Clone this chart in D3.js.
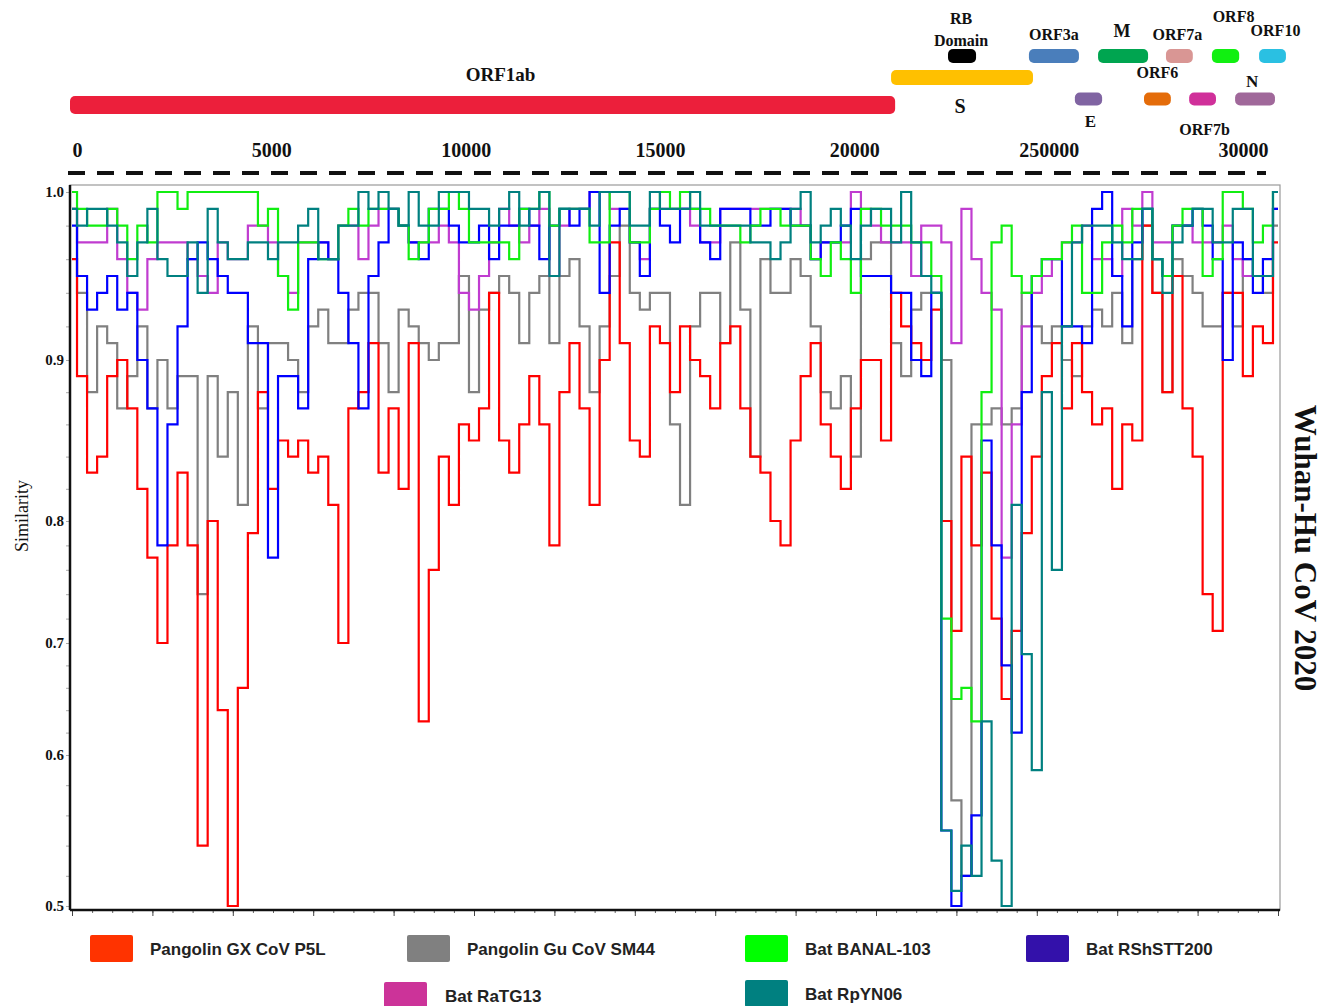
<!DOCTYPE html>
<html>
<head>
<meta charset="utf-8">
<script src="https://cdn.jsdelivr.net/npm/d3@7"></script>
<style>
body { margin: 0; background: #fff; }
</style>
</head>
<body>
<div id="chart"></div>
<script>
// window start positions along the genome (bp)
var positions = [0, 250, 500, 750, 1000, 1250, 1500, 1750, 2000, 2250,
  2500, 2750, 3000, 3250, 3500, 3750, 4000, 4250, 4500, 4750,
  5000, 5250, 5500, 5750, 6000, 6250, 6500, 6750, 7000, 7250,
  7500, 7750, 8000, 8250, 8500, 8750, 9000, 9250, 9500, 9750,
  10000, 10250, 10500, 10750, 11000, 11250, 11500, 11750, 12000, 12250,
  12500, 12750, 13000, 13250, 13500, 13750, 14000, 14250, 14500, 14750,
  15000, 15250, 15500, 15750, 16000, 16250, 16500, 16750, 17000, 17250,
  17500, 17750, 18000, 18250, 18500, 18750, 19000, 19250, 19500, 19750,
  20000, 20250, 20500, 20750, 21000, 21250, 21500, 21750, 22000, 22250,
  22500, 22750, 23000, 23250, 23500, 23750, 24000, 24250, 24500, 24750,
  25000, 25250, 25500, 25750, 26000, 26250, 26500, 26750, 27000, 27250,
  27500, 27750, 28000, 28250, 28500, 28750, 29000, 29250, 29500, 29750,
  30000];

var pangolinGX = [0.96, 0.89, 0.83, 0.84, 0.89, 0.90, 0.87, 0.82, 0.77, 0.70,
  0.78, 0.83, 0.78, 0.54, 0.80, 0.64, 0.50, 0.66, 0.79, 0.88,
  0.82, 0.85, 0.84, 0.85, 0.83, 0.84, 0.81, 0.70, 0.87, 0.88,
  0.91, 0.83, 0.87, 0.82, 0.91, 0.63, 0.76, 0.84, 0.81, 0.86,
  0.85, 0.87, 0.94, 0.85, 0.83, 0.86, 0.89, 0.86, 0.78, 0.88,
  0.91, 0.87, 0.81, 0.90, 0.97, 0.91, 0.85, 0.84, 0.92, 0.91,
  0.88, 0.92, 0.90, 0.89, 0.87, 0.91, 0.92, 0.87, 0.84, 0.83,
  0.80, 0.78, 0.85, 0.89, 0.91, 0.86, 0.84, 0.82, 0.87, 0.90,
  0.90, 0.85, 0.94, 0.92, 0.91, 0.90, 0.93, 0.80, 0.71, 0.84,
  0.78, 0.83, 0.72, 0.65, 0.71, 0.79, 0.84, 0.89, 0.91, 0.87,
  0.91, 0.88, 0.86, 0.87, 0.82, 0.86, 0.85, 0.98, 0.94, 0.88,
  0.95, 0.87, 0.84, 0.74, 0.71, 0.94, 0.94, 0.89, 0.92, 0.91,
  0.97];

var pangolinGu = [0.99, 0.94, 0.88, 0.92, 0.91, 0.87, 0.89, 0.92, 0.87, 0.90,
  0.87, 0.89, 0.89, 0.74, 0.89, 0.84, 0.88, 0.81, 0.92, 0.87,
  0.91, 0.91, 0.90, 0.88, 0.92, 0.93, 0.91, 0.91, 0.93, 0.94,
  0.94, 0.91, 0.88, 0.93, 0.92, 0.91, 0.90, 0.91, 0.91, 0.95,
  0.88, 0.93, 0.94, 0.95, 0.94, 0.91, 0.94, 0.95, 0.91, 0.95,
  0.96, 0.92, 0.88, 0.92, 0.95, 0.98, 0.94, 0.93, 0.94, 0.94,
  0.86, 0.81, 0.92, 0.94, 0.94, 0.91, 0.97, 0.93, 0.84, 0.96,
  0.94, 0.94, 0.96, 0.95, 0.92, 0.88, 0.87, 0.89, 0.84, 0.96,
  0.97, 0.97, 0.91, 0.89, 0.93, 0.94, 0.94, 0.90, 0.57, 0.52,
  0.86, 0.86, 0.87, 0.86, 0.87, 0.94, 0.92, 0.91, 0.92, 0.90,
  0.89, 0.92, 0.93, 0.92, 0.94, 0.91, 0.96, 0.98, 0.94, 0.88,
  0.96, 0.95, 0.94, 0.92, 0.92, 0.94, 0.92, 0.96, 0.95, 0.94,
  0.98];

var batBANAL103 = [1.00, 0.99, 0.98, 0.98, 0.99, 0.98, 0.96, 0.98, 0.97, 1.00,
  1.00, 0.99, 1.00, 1.00, 1.00, 1.00, 1.00, 1.00, 1.00, 0.98,
  0.99, 0.95, 0.93, 0.97, 0.97, 0.96, 0.96, 0.98, 0.99, 0.98,
  0.99, 0.99, 0.99, 0.98, 0.96, 0.97, 0.99, 0.99, 1.00, 0.99,
  0.97, 0.97, 0.97, 0.97, 0.96, 0.99, 0.99, 1.00, 0.98, 0.99,
  0.99, 0.99, 0.97, 0.97, 1.00, 1.00, 0.97, 0.97, 0.99, 1.00,
  0.99, 1.00, 0.99, 0.99, 0.98, 0.98, 0.98, 0.97, 0.98, 0.99,
  0.99, 0.98, 0.98, 0.98, 0.96, 0.95, 0.97, 0.96, 0.94, 0.99,
  0.99, 0.98, 0.98, 0.98, 0.97, 0.97, 0.95, 0.72, 0.65, 0.66,
  0.63, 0.88, 0.97, 0.98, 0.95, 0.94, 0.95, 0.96, 0.96, 0.97,
  0.98, 0.94, 0.94, 0.97, 0.98, 0.97, 0.99, 0.99, 0.96, 0.95,
  0.98, 0.99, 0.99, 0.95, 0.96, 1.00, 1.00, 0.99, 0.97, 0.98,
  1.00];

var batRShSTT200 = [0.98, 0.95, 0.93, 0.94, 0.95, 0.93, 0.94, 0.90, 0.87, 0.78,
  0.86, 0.92, 0.96, 0.97, 0.96, 0.95, 0.94, 0.94, 0.91, 0.91,
  0.77, 0.89, 0.89, 0.87, 0.96, 0.97, 0.96, 0.94, 0.91, 0.87,
  0.95, 0.97, 0.99, 0.98, 0.97, 0.96, 0.99, 0.99, 0.98, 0.97,
  0.97, 0.98, 0.96, 0.98, 0.98, 0.99, 0.98, 0.96, 0.98, 0.99,
  0.98, 0.99, 1.00, 0.94, 0.98, 0.99, 0.97, 0.95, 0.99, 0.98,
  0.97, 0.99, 0.99, 0.97, 0.96, 0.99, 0.99, 0.99, 0.98, 0.98,
  0.99, 0.99, 0.98, 0.98, 0.96, 0.97, 0.97, 0.98, 0.99, 0.95,
  0.95, 0.95, 0.94, 0.94, 0.90, 0.89, 0.94, 0.55, 0.50, 0.52,
  0.56, 0.85, 0.78, 0.68, 0.62, 0.88, 0.95, 0.96, 0.96, 0.92,
  0.92, 0.91, 0.99, 1.00, 0.95, 0.92, 0.97, 0.99, 0.96, 0.95,
  0.98, 0.98, 0.99, 0.98, 0.96, 0.90, 0.97, 0.96, 0.94, 0.96,
  0.99];

var batRaTG13 = [0.99, 0.97, 0.97, 0.97, 0.99, 0.96, 0.94, 0.93, 0.96, 0.97,
  0.97, 0.97, 0.96, 0.95, 0.94, 0.97, 0.96, 0.96, 0.98, 0.98,
  0.97, 0.95, 0.94, 0.97, 0.97, 0.97, 0.96, 0.98, 0.98, 0.96,
  0.98, 0.99, 0.99, 0.98, 0.97, 0.97, 0.97, 0.98, 0.97, 0.94,
  0.93, 0.95, 0.97, 0.99, 0.98, 0.97, 0.98, 0.99, 0.95, 0.98,
  0.99, 0.99, 1.00, 1.00, 0.99, 0.99, 0.97, 0.96, 0.99, 0.99,
  0.99, 0.99, 0.98, 0.97, 0.97, 0.99, 0.99, 0.99, 0.99, 0.99,
  0.99, 0.99, 0.99, 0.98, 0.96, 0.97, 0.97, 0.97, 1.00, 0.99,
  0.98, 0.97, 0.97, 0.97, 0.95, 0.98, 0.98, 0.97, 0.91, 0.99,
  0.96, 0.94, 0.93, 0.77, 0.86, 0.92, 0.94, 0.95, 0.96, 0.97,
  0.97, 0.98, 0.96, 0.96, 0.95, 0.99, 0.98, 1.00, 0.97, 0.97,
  0.98, 0.98, 0.97, 0.97, 0.97, 0.98, 0.96, 0.95, 0.95, 0.95,
  0.99];

var batRpYN06 = [0.99, 0.98, 0.99, 0.99, 0.98, 0.97, 0.95, 0.97, 0.99, 0.96,
  0.95, 0.95, 0.97, 0.94, 0.99, 0.97, 0.96, 0.96, 0.97, 0.97,
  0.96, 0.97, 0.97, 0.98, 0.99, 0.96, 0.96, 0.98, 0.98, 1.00,
  0.99, 1.00, 0.99, 0.98, 1.00, 0.98, 0.98, 1.00, 1.00, 1.00,
  0.99, 0.99, 0.98, 0.99, 1.00, 0.98, 0.99, 1.00, 0.95, 0.99,
  0.99, 0.99, 0.98, 1.00, 1.00, 1.00, 0.98, 0.98, 1.00, 0.99,
  0.99, 0.99, 1.00, 0.98, 0.98, 0.98, 0.98, 0.98, 0.97, 0.97,
  0.96, 0.97, 0.99, 1.00, 0.97, 0.98, 0.99, 0.98, 0.96, 0.98,
  0.99, 0.99, 0.97, 1.00, 0.97, 0.95, 0.94, 0.55, 0.51, 0.54,
  0.52, 0.63, 0.53, 0.50, 0.81, 0.69, 0.59, 0.88, 0.76, 0.92,
  0.97, 0.98, 0.98, 0.98, 0.97, 0.96, 0.96, 0.99, 0.96, 0.94,
  0.97, 0.98, 0.99, 0.99, 0.97, 0.97, 0.99, 0.99, 0.95, 0.95,
  1.00];

var seriesNames = ["Pangolin GX CoV P5L", "Pangolin Gu CoV SM44", "Bat BANAL-103",
  "Bat RShSTT200", "Bat RaTG13", "Bat RpYN06"];
var seriesValues = [pangolinGX, pangolinGu, batBANAL103, batRShSTT200, batRaTG13, batRpYN06];

// genome map (bp)
var geneNames = ["ORF1ab", "S", "RB Domain", "ORF3a", "E", "M", "ORF6", "ORF7a", "ORF7b", "ORF8", "N", "ORF10"];
var geneStart = [0, 20190, 21590, 23580, 24710, 25280, 26410, 26950, 27520, 28080, 28650, 29240];
var geneEnd = [20290, 23680, 22280, 24810, 25380, 26510, 27070, 27610, 28180, 28750, 29630, 29900];
var geneTrack = ["main", "spike", "upper", "upper", "lower", "upper", "lower", "upper", "lower", "upper", "lower", "upper"];

var topTickValues = [0, 5000, 10000, 15000, 20000, 25000, 30000];
var topTickLabels = ["0", "5000", "10000", "15000", "20000", "250000", "30000"];
var yTickValues = [0.5, 0.6, 0.7, 0.8, 0.9, 1.0];

// ---- styles / layout ----
var width = 1334, height = 1006;
var serif = "'Liberation Serif', 'Times New Roman', serif";

var lineColor = {
  "Pangolin GX CoV P5L": "#ff0000",
  "Pangolin Gu CoV SM44": "#808080",
  "Bat BANAL-103": "#11ee11",
  "Bat RShSTT200": "#0000ff",
  "Bat RaTG13": "#c03cd0",
  "Bat RpYN06": "#008080"
};
var swatchColor = {
  "Pangolin GX CoV P5L": "#ff3300",
  "Pangolin Gu CoV SM44": "#808080",
  "Bat BANAL-103": "#00ff00",
  "Bat RShSTT200": "#3311aa",
  "Bat RaTG13": "#cc3399",
  "Bat RpYN06": "#008080"
};
var drawOrder = ["Pangolin Gu CoV SM44", "Pangolin GX CoV P5L", "Bat RaTG13", "Bat RShSTT200", "Bat BANAL-103", "Bat RpYN06"];

var geneColor = {
  "ORF1ab": "#ec1f3b", "S": "#ffc000", "RB Domain": "#000000", "ORF3a": "#4a7ebb",
  "E": "#8064a2", "M": "#00a550", "ORF6": "#e46c0a", "ORF7a": "#d99694",
  "ORF7b": "#d0309a", "ORF8": "#11f011", "N": "#a0689a", "ORF10": "#2ac0e2"
};
var tracks = { main: { y: 96, h: 18 }, spike: { y: 70, h: 15 }, upper: { y: 49, h: 14 }, lower: { y: 92.5, h: 13 } };
var geneLabel = {
  "ORF1ab": { dx: 18, y: 81, size: 19 },
  "S": { dx: -2, y: 113, size: 20 },
  "RB Domain": { dx: -1, y: 24, size: 16 },
  "ORF3a": { dx: 0, y: 40, size: 16 },
  "E": { dx: 2, y: 127, size: 17 },
  "M": { dx: -1, y: 37, size: 18 },
  "ORF6": { dx: 0, y: 78, size: 16 },
  "ORF7a": { dx: -2, y: 40, size: 16 },
  "ORF7b": { dx: 2, y: 135, size: 16 },
  "ORF8": { dx: 8, y: 22, size: 16 },
  "N": { dx: -3, y: 87, size: 17 },
  "ORF10": { dx: 3, y: 36, size: 16 }
};

var svg = d3.select("#chart").append("svg")
    .attr("width", width)
    .attr("height", height)
    .style("background", "#fff");

// scales
var x = d3.scaleLinear().domain([0, 30000]).range([72, 1278]);
var y = d3.scaleLinear()
    .domain(yTickValues)
    .range([906, 755, 643, 521, 360, 192]);
var gx = d3.scaleLinear().domain([0, 30000]).range([70, 1290]);
var topX = d3.scaleLinear().domain([0, 30000]).range([77, 1243]);

var plotLeft = x(0) - 2, plotRight = x(30000) + 2, plotTop = 185, plotBottom = y(0.5) + 4;

// ---- genome map ----
var genes = geneNames.map(function(name, i) {
  return { name: name, start: geneStart[i], end: geneEnd[i], track: geneTrack[i] };
});

svg.append("g").selectAll("rect")
    .data(genes)
  .enter().append("rect")
    .attr("x", function(d) { return gx(d.start); })
    .attr("y", function(d) { return tracks[d.track].y; })
    .attr("width", function(d) { return gx(d.end) - gx(d.start); })
    .attr("height", function(d) { return tracks[d.track].h; })
    .attr("rx", 5)
    .style("fill", function(d) { return geneColor[d.name]; });

var gl = svg.append("g")
    .attr("font-family", serif)
    .attr("font-weight", "bold")
    .attr("text-anchor", "middle")
    .attr("fill", "#111");

genes.forEach(function(d) {
  var lab = geneLabel[d.name];
  var cx = (gx(d.start) + gx(d.end)) / 2 + lab.dx;
  if (d.name === "RB Domain") {
    gl.append("text").attr("x", cx).attr("y", lab.y).attr("font-size", lab.size).text("RB");
    gl.append("text").attr("x", cx).attr("y", lab.y + 22).attr("font-size", lab.size).text("Domain");
  } else {
    gl.append("text").attr("x", cx).attr("y", lab.y).attr("font-size", lab.size).text(d.name);
  }
});

// position labels above the dashed guide
var topAxis = svg.append("g")
    .attr("transform", "translate(0,157)")
    .call(d3.axisTop(topX)
      .tickValues(topTickValues)
      .tickFormat(function(d, i) { return topTickLabels[i]; })
      .tickSize(0)
      .tickPadding(0));
topAxis.select(".domain").remove();
topAxis.selectAll("text")
    .attr("font-family", serif)
    .attr("font-weight", "bold")
    .attr("font-size", 20)
    .attr("fill", "#111");

svg.append("line")
    .attr("x1", 68).attr("x2", 1266)
    .attr("y1", 173).attr("y2", 173)
    .style("stroke", "#111")
    .style("stroke-width", 4)
    .style("stroke-dasharray", "17,12");

// ---- plot frame ----
svg.append("rect")
    .attr("x", plotLeft).attr("y", plotTop)
    .attr("width", plotRight - plotLeft)
    .attr("height", plotBottom - plotTop)
    .style("fill", "none")
    .style("stroke", "#9a9a9a")
    .style("stroke-width", 1.2);

// lines
var line = d3.line()
    .x(function(d) { return x(d.pos); })
    .y(function(d) { return y(d.value); })
    .curve(d3.curveStep);

var plot = svg.append("g");
drawOrder.forEach(function(name) {
  var vals = seriesValues[seriesNames.indexOf(name)];
  var pts = positions.map(function(p, i) { return { pos: p, value: vals[i] }; });
  plot.append("path")
      .datum(pts)
      .attr("d", line)
      .style("fill", "none")
      .style("stroke", lineColor[name])
      .style("stroke-width", 2.2)
      .style("stroke-linejoin", "miter");
});

// y axis
var yMinor = svg.append("g")
    .attr("transform", "translate(" + plotLeft + ",0)")
    .call(d3.axisLeft(y).tickValues(d3.range(0.5, 1.001, 0.02)).tickSize(4).tickFormat(""));
yMinor.select(".domain").remove();
yMinor.selectAll("line").style("stroke", "#aaa");

var yAxis = svg.append("g")
    .attr("transform", "translate(" + plotLeft + ",0)")
    .call(d3.axisLeft(y).tickValues(yTickValues).tickFormat(d3.format(".1f")).tickSize(0).tickPadding(6));
yAxis.select(".domain").remove();
yAxis.selectAll("text")
    .attr("font-family", serif)
    .attr("font-weight", "bold")
    .attr("font-size", 15)
    .attr("fill", "#111");

svg.append("line")
    .attr("x1", plotLeft).attr("x2", plotLeft)
    .attr("y1", plotTop).attr("y2", plotBottom)
    .style("stroke", "#111").style("stroke-width", 2.5);

// bottom axis ticks
var xMinor = svg.append("g")
    .attr("transform", "translate(0," + plotBottom + ")")
    .call(d3.axisBottom(x).tickValues(d3.range(0, 30001, 500)).tickSize(3).tickFormat(""));
xMinor.select(".domain").remove();
xMinor.selectAll("line").style("stroke", "#666");
var xMajor = svg.append("g")
    .attr("transform", "translate(0," + plotBottom + ")")
    .call(d3.axisBottom(x).tickValues(d3.range(0, 30001, 2000)).tickSize(6).tickFormat(""));
xMajor.select(".domain").remove();
xMajor.selectAll("line").style("stroke", "#444");

svg.append("line")
    .attr("x1", plotLeft).attr("x2", plotRight)
    .attr("y1", plotBottom).attr("y2", plotBottom)
    .style("stroke", "#111").style("stroke-width", 2.5);

// axis titles
svg.append("text")
    .attr("transform", "translate(28,516) rotate(-90)")
    .attr("text-anchor", "middle")
    .attr("font-family", serif)
    .attr("font-size", 18)
    .attr("fill", "#111")
    .text("Similarity");

svg.append("text")
    .attr("transform", "translate(1295,548) rotate(90)")
    .attr("text-anchor", "middle")
    .attr("font-family", serif)
    .attr("font-weight", "bold")
    .attr("font-size", 31)
    .attr("fill", "#111")
    .text("Wuhan-Hu CoV 2020");

// legend
var legendSlots = [[90, 935], [407, 935], [745, 935], [1026, 935], [384, 982], [745, 980]];
var legend = svg.append("g").selectAll("g")
    .data(seriesNames)
  .enter().append("g")
    .attr("transform", function(d, i) { return "translate(" + legendSlots[i][0] + "," + legendSlots[i][1] + ")"; });

legend.append("rect")
    .attr("width", 43)
    .attr("height", 27)
    .attr("rx", 2)
    .style("fill", function(d) { return swatchColor[d]; });

legend.append("text")
    .attr("x", function(d, i) { return i === 4 ? 61 : 60; })
    .attr("y", 20)
    .attr("font-family", "'Liberation Sans', Arial, sans-serif")
    .attr("font-weight", "bold")
    .attr("font-size", 17)
    .attr("fill", "#222")
    .text(function(d) { return d; });
</script>
</body>
</html>
